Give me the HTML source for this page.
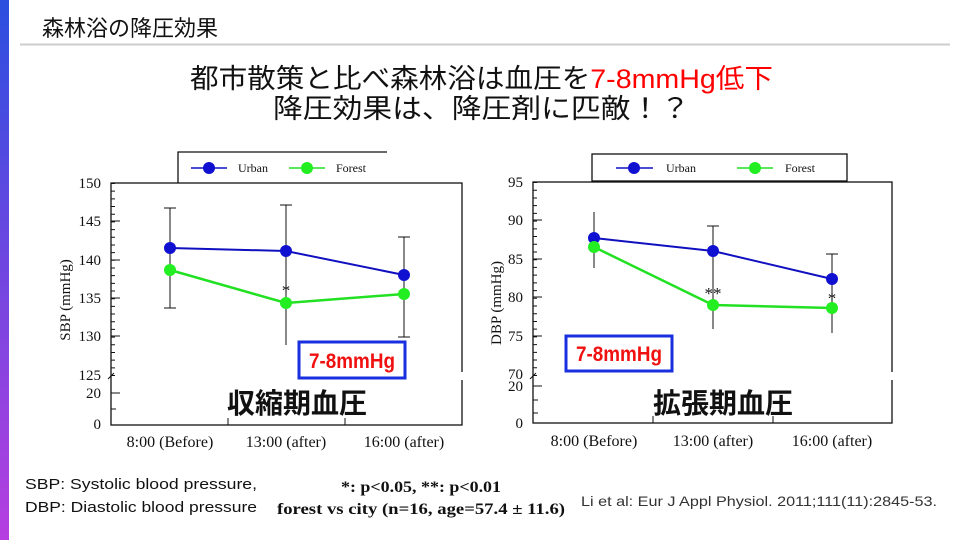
<!DOCTYPE html>
<html><head><meta charset="utf-8"><style>
html,body{margin:0;padding:0;background:#fff}
svg{display:block}
</style></head><body>
<svg width="960" height="540" viewBox="0 0 960 540" xmlns="http://www.w3.org/2000/svg">
<defs><linearGradient id="g" x1="0" y1="0" x2="0" y2="1"><stop offset="0" stop-color="#2b4fe0"/><stop offset="1" stop-color="#b63ee0"/></linearGradient></defs>
<rect x="0" y="0" width="9" height="540" fill="url(#g)"/>
<text x="42" y="36" font-family="'Liberation Sans','Noto Sans CJK JP',sans-serif" font-size="22" fill="#111">森林浴の降圧効果</text>
<line x1="20" y1="44.5" x2="950" y2="44.5" stroke="#ccc" stroke-width="2"/>
<g font-family="'Liberation Sans','Noto Sans CJK JP',sans-serif" font-size="27" fill="#111">
<text x="190" y="88" textLength="583" lengthAdjust="spacingAndGlyphs">都市散策と比べ森林浴は血圧を<tspan fill="#f00">7-8mmHg低下</tspan></text>
<text x="273" y="118" textLength="417" lengthAdjust="spacingAndGlyphs">降圧効果は、降圧剤に匹敵！？</text>
</g>

<!-- LEFT CHART -->
<g font-family="'Liberation Serif',serif" fill="#111">
<rect x="111" y="183" width="351" height="242" fill="none" stroke="#111" stroke-width="1.3"/>
<line x1="462" y1="372" x2="462" y2="380" stroke="#fff" stroke-width="3"/>
<polyline points="178,183 178,152 387,152" fill="none" stroke="#111" stroke-width="1.3"/>
<line x1="113" y1="183" x2="113" y2="376" stroke="#111" stroke-width="4" stroke-dasharray="1 6.68"/>
<g stroke="#111" stroke-width="1"><line x1="111" y1="221" x2="120" y2="221"/><line x1="111" y1="260" x2="120" y2="260"/><line x1="111" y1="298" x2="120" y2="298"/><line x1="111" y1="336" x2="120" y2="336"/><line x1="111" y1="393" x2="120" y2="393"/><line x1="111" y1="409" x2="116" y2="409"/><line x1="228" y1="425" x2="228" y2="418"/><line x1="345" y1="425" x2="345" y2="418"/><line x1="108" y1="379" x2="114" y2="373"/></g>
<g font-size="15" text-anchor="end"><text x="101" y="188">150</text><text x="101" y="226">145</text><text x="101" y="265">140</text><text x="101" y="303">135</text><text x="101" y="341">130</text><text x="101" y="380">125</text><text x="101" y="398">20</text><text x="101" y="429">0</text></g>
<text transform="translate(70,300) rotate(-90)" font-size="15" text-anchor="middle">SBP (mmHg)</text>
<g font-size="16" text-anchor="middle"><text x="170" y="447">8:00 (Before)</text><text x="286" y="447">13:00 (after)</text><text x="404" y="447">16:00 (after)</text></g>
<g stroke="#111" stroke-width="1"><line x1="170" y1="208" x2="170" y2="308"/><line x1="164" y1="208" x2="176" y2="208"/><line x1="164" y1="308" x2="176" y2="308"/>
<line x1="286" y1="205" x2="286" y2="345"/><line x1="280" y1="205" x2="292" y2="205"/>
<line x1="404" y1="237" x2="404" y2="337"/><line x1="398" y1="237" x2="410" y2="237"/><line x1="398" y1="337" x2="410" y2="337"/></g>
<polyline points="170,248 286,251 404,275" fill="none" stroke="#1010c0" stroke-width="2"/>
<polyline points="170,270 286,303 404,294" fill="none" stroke="#22e022" stroke-width="2.5"/>
<g fill="#1010d0"><circle cx="170" cy="248" r="6"/><circle cx="286" cy="251" r="6"/><circle cx="404" cy="275" r="6"/></g>
<g fill="#22ee22"><circle cx="170" cy="270" r="6"/><circle cx="286" cy="303" r="6"/><circle cx="404" cy="294" r="6"/></g>
<text x="286" y="296" font-size="17" text-anchor="middle">*</text>
<line x1="191" y1="168" x2="227" y2="168" stroke="#1010c0" stroke-width="1.5"/><circle cx="209" cy="168" r="6" fill="#1010d0"/>
<text x="238" y="172" font-size="12">Urban</text>
<line x1="289" y1="168" x2="325" y2="168" stroke="#22e022" stroke-width="1.5"/><circle cx="307" cy="168" r="6" fill="#22ee22"/>
<text x="336" y="172" font-size="12">Forest</text>
</g>
<rect x="299" y="342" width="106" height="36" fill="#fff" stroke="#1a2fe0" stroke-width="3"/>
<text x="352" y="368" text-anchor="middle" font-family="'Liberation Sans',sans-serif" font-weight="bold" font-size="21" fill="#f01010" textLength="86" lengthAdjust="spacingAndGlyphs">7-8mmHg</text>
<text x="297" y="413" text-anchor="middle" font-family="'Liberation Sans','Noto Sans CJK JP',sans-serif" font-weight="bold" font-size="28" fill="#111">収縮期血圧</text>

<!-- RIGHT CHART -->
<g font-family="'Liberation Serif',serif" fill="#111">
<rect x="533" y="182" width="359" height="241" fill="none" stroke="#111" stroke-width="1.3"/>
<line x1="892" y1="372" x2="892" y2="380" stroke="#fff" stroke-width="3"/>
<rect x="592" y="154" width="255" height="27" fill="#fff" stroke="#111" stroke-width="1.3"/>
<line x1="535" y1="182" x2="535" y2="376" stroke="#111" stroke-width="4" stroke-dasharray="1 6.72"/>
<g stroke="#111" stroke-width="1"><line x1="533" y1="220" x2="542" y2="220"/><line x1="533" y1="259" x2="542" y2="259"/><line x1="533" y1="297" x2="542" y2="297"/><line x1="533" y1="336" x2="542" y2="336"/><line x1="533" y1="386" x2="542" y2="386"/><line x1="533" y1="400" x2="538" y2="400"/><line x1="533" y1="413" x2="538" y2="413"/><line x1="653" y1="423" x2="653" y2="416"/><line x1="773" y1="423" x2="773" y2="416"/><line x1="530" y1="379" x2="536" y2="373"/></g>
<g font-size="15" text-anchor="end"><text x="523" y="187">95</text><text x="523" y="225">90</text><text x="523" y="264">85</text><text x="523" y="302">80</text><text x="523" y="341">75</text><text x="523" y="379">70</text><text x="523" y="391">20</text><text x="523" y="428">0</text></g>
<text transform="translate(501,303) rotate(-90)" font-size="15" text-anchor="middle">DBP (mmHg)</text>
<g font-size="16" text-anchor="middle"><text x="594" y="446">8:00 (Before)</text><text x="713" y="446">13:00 (after)</text><text x="832" y="446">16:00 (after)</text></g>
<g stroke="#111" stroke-width="1"><line x1="594" y1="212" x2="594" y2="268"/>
<line x1="713" y1="226" x2="713" y2="329"/><line x1="707" y1="226" x2="719" y2="226"/>
<line x1="832" y1="254" x2="832" y2="333"/><line x1="826" y1="254" x2="838" y2="254"/></g>
<polyline points="594,238 713,251 832,279" fill="none" stroke="#1010c0" stroke-width="2"/>
<polyline points="594,247 713,305 832,308" fill="none" stroke="#22e022" stroke-width="2.5"/>
<g fill="#1010d0"><circle cx="594" cy="238" r="6"/><circle cx="713" cy="251" r="6"/><circle cx="832" cy="279" r="6"/></g>
<g fill="#22ee22"><circle cx="594" cy="247" r="6"/><circle cx="713" cy="305" r="6"/><circle cx="832" cy="308" r="6"/></g>
<text x="713" y="299" font-size="17" text-anchor="middle">**</text>
<text x="832" y="304" font-size="17" text-anchor="middle">*</text>
<line x1="616" y1="168" x2="653" y2="168" stroke="#1010c0" stroke-width="1.5"/><circle cx="634" cy="168" r="6" fill="#1010d0"/>
<text x="666" y="172" font-size="12">Urban</text>
<line x1="737" y1="168" x2="773" y2="168" stroke="#22e022" stroke-width="1.5"/><circle cx="755" cy="168" r="6" fill="#22ee22"/>
<text x="785" y="172" font-size="12">Forest</text>
</g>
<rect x="566" y="336" width="106" height="35" fill="#fff" stroke="#1a2fe0" stroke-width="3"/>
<text x="619" y="361" text-anchor="middle" font-family="'Liberation Sans',sans-serif" font-weight="bold" font-size="21" fill="#f01010" textLength="86" lengthAdjust="spacingAndGlyphs">7-8mmHg</text>
<text x="723" y="413" text-anchor="middle" font-family="'Liberation Sans','Noto Sans CJK JP',sans-serif" font-weight="bold" font-size="28" fill="#111">拡張期血圧</text>

<!-- FOOTER -->
<g font-family="'Liberation Sans',sans-serif" font-size="15" fill="#111">
<text x="25" y="489" textLength="232" lengthAdjust="spacingAndGlyphs">SBP: Systolic blood pressure,</text>
<text x="25" y="512" textLength="232" lengthAdjust="spacingAndGlyphs">DBP: Diastolic blood pressure</text>
</g>
<g font-family="'Liberation Serif',serif" font-weight="bold" font-size="16" fill="#111" text-anchor="middle">
<text x="421" y="492" textLength="160" lengthAdjust="spacingAndGlyphs">*: p&lt;0.05, **: p&lt;0.01</text>
<text x="421" y="514" textLength="288" lengthAdjust="spacingAndGlyphs">forest vs city (n=16, age=57.4 ± 11.6)</text>
</g>
<text x="581" y="506" font-family="'Liberation Sans',sans-serif" font-size="14" fill="#333" textLength="356" lengthAdjust="spacingAndGlyphs">Li et al: Eur J Appl Physiol. 2011;111(11):2845-53.</text>
</svg>
</body></html>
